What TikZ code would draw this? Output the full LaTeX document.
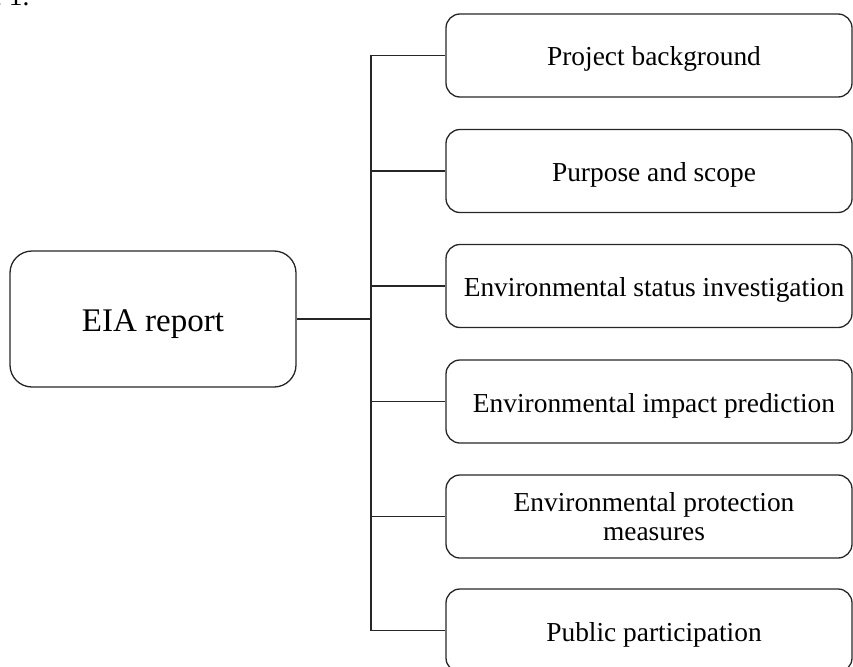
\documentclass[tikz,border=0pt]{standalone}
\usepackage{fontspec}
\setmainfont{Liberation Serif}
\begin{document}
\begin{tikzpicture}[x=1pt,y=-1pt,
  line/.style={line width=1.3pt,draw=black!85},
  mainbox/.style={line, rounded corners=22pt, minimum width=286pt, minimum height=136pt,
    font=\fontsize{33}{36}\selectfont, inner sep=0pt, text height=24pt, text depth=0pt},
  childbox/.style={line, rounded corners=14pt, minimum width=406pt, minimum height=83pt,
    font=\fontsize{27.4}{29}\selectfont, align=center, inner sep=0pt,
    execute at begin node={\hspace*{10pt}}},
  oneline/.style={childbox, text height=21pt, text depth=0pt}]
\clip (0,0) rectangle (853,666);
\useasboundingbox (0,0) rectangle (853,666);
\node[anchor=base east, font=\fontsize{27.4}{30}\selectfont] (fig) at (33,6) {Figure 1.};
\node[mainbox] (m) at (153,319) {EIA report};
\node[oneline] (c1) at (649,55.5) {Project background};
\node[oneline] (c2) at (649,171) {Purpose and scope};
\node[oneline] (c3) at (649,286) {Environmental status investigation};
\node[oneline] (c4) at (649,401.5) {Environmental impact prediction};
\node[childbox] (c5) at (649,516.5) {Environmental protection\\measures};
\node[oneline] (c6) at (649,630.5) {Public participation};
\coordinate (j) at (371,319);
\draw[line] (m.east) -- (j);
\foreach \i in {1,...,6}{\draw[line] (j) |- (c\i.west);}
\end{tikzpicture}
\end{document}
